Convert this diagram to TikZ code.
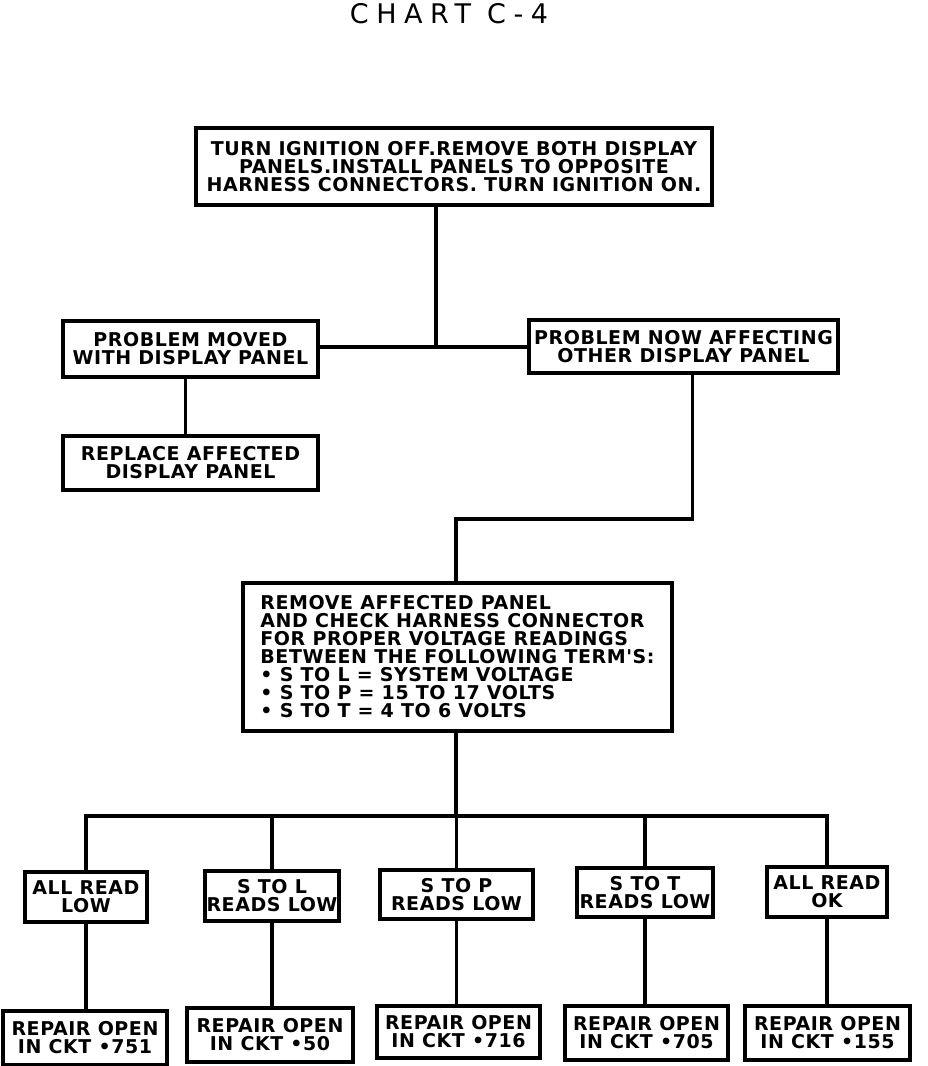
\documentclass[tikz,border=0pt]{standalone}
\usepackage{fontspec}
\setsansfont{DejaVu Sans}
\newfontfamily\titlefont{DejaVu Sans}[LetterSpace=28]
\newfontfamily\plotfont{DejaVu Sans}[LetterSpace=3]
\tikzset{%
  % boxes and connecting lines of the chart
            box/.style = {draw=black, line width=4pt, align=center,
                            inner sep=0pt,
                            font=\plotfont\bfseries\fontsize{19}{18}\selectfont},
            wire/.style = {draw=black, line width=3.5pt},
            title/.style = {font=\titlefont\fontsize{27}{27}\selectfont}
}
\begin{document}
\begin{tikzpicture}[x=1pt, y=-1pt]
                \useasboundingbox (0,0) rectangle (928,1066);

                \node[title] (chart) at (449,14) {CHART C-4};

                % first check
                \node[box, minimum width=516pt, minimum height=77pt] (top) at (454,166.5)
                  {TURN IGNITION OFF.REMOVE BOTH DISPLAY\\
                   PANELS.INSTALL PANELS TO OPPOSITE\\
                   HARNESS CONNECTORS. TURN IGNITION ON.};
                \node[box, minimum width=255pt, minimum height=56pt] (moved) at (190.5,349)
                  {PROBLEM MOVED\\WITH DISPLAY PANEL};
                \node[box, minimum width=309pt, minimum height=53pt] (other) at (683.5,346.5)
                  {PROBLEM NOW AFFECTING\\OTHER DISPLAY PANEL};
                \node[box, minimum width=255pt, minimum height=54pt] (replace) at (190.5,463)
                  {REPLACE AFFECTED\\DISPLAY PANEL};
                \coordinate (hub) at (436,347);
                \draw[wire] (top.south -| hub) -- (hub);
                \draw[wire] (moved.east |- hub) -- (other.west |- hub);
                \draw[wire] ([xshift=-5pt]moved.south) -- ([xshift=-5pt]replace.north);

                % voltage check
                \node[box, align=left, minimum width=429pt, minimum height=148pt] (check) at (457.5,657)
                  {REMOVE AFFECTED PANEL\\
                   AND CHECK HARNESS CONNECTOR\\
                   FOR PROPER VOLTAGE READINGS\\
                   BETWEEN THE FOLLOWING TERM'S:\\
                   • S TO L = SYSTEM VOLTAGE\\
                   • S TO P = 15 TO 17 VOLTS\\
                   • S TO T = 4 TO 6 VOLTS};
                \coordinate (elbow) at (456,519);
                \draw[wire] ([xshift=9pt]other.south) |- (elbow) -- (elbow |- check.north);

                % readings
                \node[box, minimum width=122pt, minimum height=50pt] (allow) at (86,897) {ALL READ\\LOW};
                \node[box, minimum width=134pt, minimum height=50pt] (sl) at (272,896) {S TO L\\READS LOW};
                \node[box, minimum width=153pt, minimum height=49pt] (sp) at (456.5,894.5) {S TO P\\READS LOW};
                \node[box, minimum width=136pt, minimum height=49pt] (st) at (645,892.5) {S TO T\\READS LOW};
                \node[box, minimum width=120pt, minimum height=50pt] (allok) at (827,892) {ALL READ\\OK};

                % repairs
                \node[box, minimum width=164pt, minimum height=54pt] (r751) at (85,1038) {REPAIR OPEN\\IN CKT •751};
                \node[box, minimum width=166pt, minimum height=54pt] (r50) at (270,1035) {REPAIR OPEN\\IN CKT •50};
                \node[box, minimum width=163pt, minimum height=52pt] (r716) at (458.5,1032) {REPAIR OPEN\\IN CKT •716};
                \node[box, minimum width=163pt, minimum height=54pt] (r705) at (646.5,1033) {REPAIR OPEN\\IN CKT •705};
                \node[box, minimum width=165pt, minimum height=54pt] (r155) at (827.5,1033) {REPAIR OPEN\\IN CKT •155};

                \coordinate (bus) at (456,816);
                \draw[wire] ([xshift=-1.5pt]check.south) -- (bus);
                \foreach \m/\r in {allow/r751, sl/r50, sp/r716, st/r705, allok/r155}{
                  \draw[wire] (\m.north) |- (bus);
                  \draw[wire] (\m.south) -- (\m.south |- \r.north);
                }

            \end{tikzpicture}
\end{document}
